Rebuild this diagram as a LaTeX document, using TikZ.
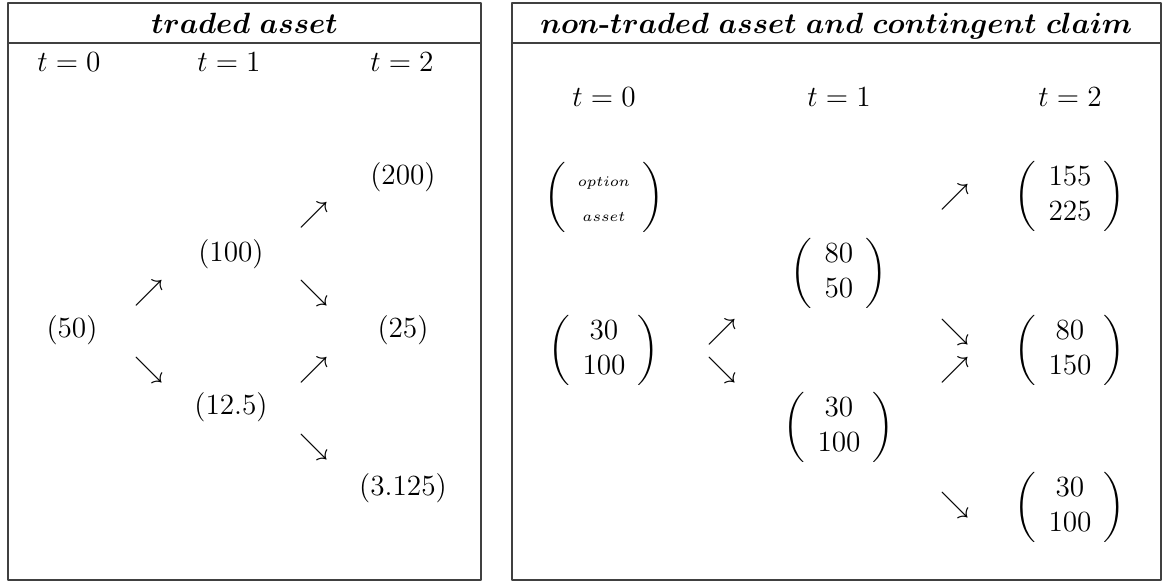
\documentclass[tikz,12pt,border=0pt]{standalone}
\usepackage{amsmath}
\usepackage{bm}
\newcommand{\colvec}[2]{\left(\begin{array}{c} #1 \\ #2 \end{array}\right)}
\begin{document}
\begin{tikzpicture}[x=0.41pt,y=-0.41pt,line join=round,line cap=round]
	\tikzset{frame/.style={draw=black!75,line width=0.5pt},
		ttl/.style={anchor=base,inner sep=0pt},
		val/.style={inner sep=0pt},
		arr/.style={inner sep=0pt}}
	\useasboundingbox (0,0) rectangle (1173,583);
	% left table
	\draw[frame] (8,3) rectangle (481,580);
	\draw[frame] (8,43)--(481,43);
	\node[ttl] (tleft) at (244.5,33) {$\bm{traded\ asset}$};
	\node[val] (l0) at (69,62) {$t=0$};
	\node[val] (l1) at (229,62) {$t=1$};
	\node[val] (l2) at (402,62) {$t=2$};
	\node[val] (s) at (72,330) {$(50)$};
	\node[val] (su) at (231,254) {$(100)$};
	\node[val] (sd) at (231,407) {$(12.5)$};
	\node[val] (suu) at (403,177) {$(200)$};
	\node[val] (sud) at (403,330) {$(25)$};
	\node[val] (sdd) at (403,488) {$(3.125)$};
	\node[arr] (a1) at (149,293) {$\nearrow$};
	\node[arr] (a2) at (149,370) {$\searrow$};
	\node[arr] (a3) at (314,215) {$\nearrow$};
	\node[arr] (a4) at (314,293) {$\searrow$};
	\node[arr] (a5) at (314,370) {$\nearrow$};
	\node[arr] (a6) at (314,447) {$\searrow$};
	% right table
	\draw[frame] (512,3) rectangle (1161,580);
	\draw[frame] (512,43)--(1161,43);
	\node[ttl] (tright) at (836.5,33) {$\bm{non}$\textbf{-}$\bm{traded\ asset\ and\ contingent\ claim}$};
	\node[val] (r0) at (604,97) {$t=0$};
	\node[val] (r1) at (839,97) {$t=1$};
	\node[val] (r2) at (1070,97) {$t=2$};
	\node[val] (key) at (604,197) {$\colvec{\scriptscriptstyle option}{\scriptscriptstyle asset}$};
	\node[val] (c) at (604,350) {$\colvec{30}{100}$};
	\node[val] (cu) at (839,273) {$\colvec{80}{50}$};
	\node[val] (cd) at (839,427) {$\colvec{30}{100}$};
	\node[val] (cuu) at (1070,196) {$\colvec{155}{225}$};
	\node[val] (cud) at (1070,350) {$\colvec{80}{150}$};
	\node[val] (cdd) at (1070,507) {$\colvec{30}{100}$};
	\node[arr] (b1) at (722,332) {$\nearrow$};
	\node[arr] (b2) at (722,370) {$\searrow$};
	\node[arr] (b3) at (955,197) {$\nearrow$};
	\node[arr] (b4) at (955,332) {$\searrow$};
	\node[arr] (b5) at (955,370) {$\nearrow$};
	\node[arr] (b6) at (955,505) {$\searrow$};
\end{tikzpicture}
\end{document}
